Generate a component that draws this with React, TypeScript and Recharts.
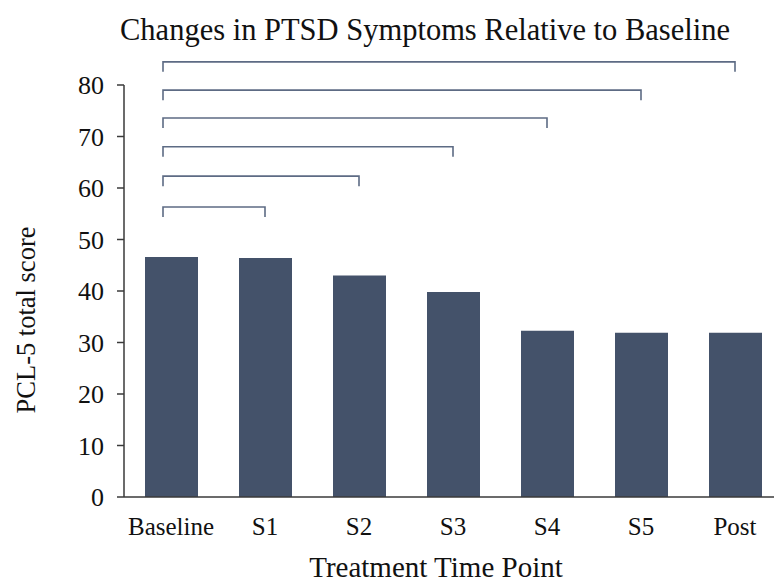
import React from 'react';
import { BarChart, Bar, XAxis, YAxis, ReferenceLine } from 'recharts';

// --- Data ---
const timePoints = ['Baseline', 'S1', 'S2', 'S3', 'S4', 'S5', 'Post'];
const pclScores = [46.6, 46.4, 43.0, 39.8, 32.3, 31.9, 31.9];
const yTicks = [0, 10, 20, 30, 40, 50, 60, 70, 80];

// significance brackets: Baseline vs each later time point
const bracketTargets = ['S1', 'S2', 'S3', 'S4', 'S5', 'Post'];
const bracketLevels = [56.3, 62.3, 68.0, 73.6, 79.0, 84.5];

const FONT = '"Liberation Serif", "Times New Roman", serif';
const BAR_COLOR = '#44526a';
const BRACKET_COLOR = '#5d6b84';
const AXIS_COLOR = '#3a3a3a';

const data = timePoints.map((name, i) => ({ name, score: pclScores[i] }));

// horizontal bar with small downward ticks at both ends
const Bracket = (props: any) => {
    const { x1, y1, x2 } = props;
    const left = x1 - 8;
    return (
        <path
            d={`M${left},${y1 + 10} V${y1} H${x2} V${y1 + 10}`}
            fill="none"
            stroke={BRACKET_COLOR}
            strokeWidth={1.6}
        />
    );
};

export default function App() {
    return (
        <div style={{ position: 'absolute', left: 0, top: 0, width: 774, height: 585, overflow: 'hidden', background: '#fff' }}>
            <BarChart
                width={790}
                height={585}
                data={data}
                margin={{ top: 85, right: 8, bottom: 0, left: 0 }}
            >
                <XAxis
                    dataKey="name"
                    height={88}
                    tickLine={false}
                    tickSize={0}
                    tickMargin={20}
                    axisLine={{ stroke: AXIS_COLOR, strokeWidth: 1.5 }}
                    tick={{ fontFamily: FONT, fontSize: 25, fill: '#111' }}
                    interval={0}
                />
                <YAxis
                    width={124}
                    domain={[0, 80]}
                    ticks={yTicks}
                    tickSize={7}
                    tickMargin={13}
                    axisLine={{ stroke: AXIS_COLOR, strokeWidth: 1.5 }}
                    tickLine={{ stroke: AXIS_COLOR, strokeWidth: 1.5 }}
                    tick={{ fontFamily: FONT, fontSize: 26, fill: '#111' }}
                />
                <Bar dataKey="score" fill={BAR_COLOR} barSize={53} isAnimationActive={false} />
                {bracketTargets.map((target, i) => (
                    <ReferenceLine
                        key={target}
                        segment={[
                            { x: 'Baseline', y: bracketLevels[i] },
                            { x: target, y: bracketLevels[i] },
                        ]}
                        ifOverflow="visible"
                        shape={Bracket}
                    />
                ))}
            </BarChart>
            <svg width={774} height={585} style={{ position: 'absolute', left: 0, top: 0, pointerEvents: 'none' }}>
                <text x={425} y={40} textAnchor="middle" fontFamily={FONT} fontSize={30.5} fill="#111">
                    Changes in PTSD Symptoms Relative to Baseline
                </text>
                <text
                    x={35}
                    y={320}
                    textAnchor="middle"
                    fontFamily={FONT}
                    fontSize={26.5}
                    fill="#111"
                    transform="rotate(-90, 35, 320)"
                >
                    PCL-5 total score
                </text>
                <text x={436} y={577} textAnchor="middle" fontFamily={FONT} fontSize={29} fill="#111">
                    Treatment Time Point
                </text>
            </svg>
        </div>
    );
}
